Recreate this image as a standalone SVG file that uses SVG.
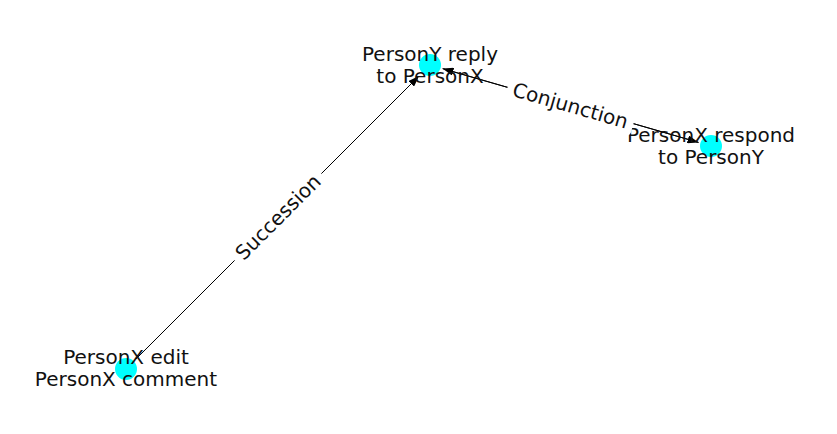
<svg xmlns="http://www.w3.org/2000/svg" width="837" height="434" viewBox="0 0 837 434">
<style>
.node{fill:#00ffff;}
.lbl{font-family:"DejaVu Sans",sans-serif;font-size:20px;fill:#111;text-anchor:middle;}
.edge{stroke:#000;stroke-width:1;fill:none;}
.elbg{fill:#fff;stroke:#fff;}
</style>
<defs>
<marker id="arr" markerUnits="userSpaceOnUse" viewBox="0 0 11 8" markerWidth="11" markerHeight="8" refX="11" refY="4" orient="auto">
<path d="M0,0 L11,4 L0,8 z" fill="#000"/>
</marker>
</defs>
<rect width="837" height="434" fill="#fff"/>
<g id="node-A"><circle class="node" cx="430" cy="65" r="11"/></g>
<g id="node-B"><circle class="node" cx="711" cy="146" r="11"/></g>
<g id="node-C"><circle class="node" cx="126" cy="369" r="11"/></g>
<g id="edges">
<line class="edge" x1="135.9" y1="359.1" x2="419" y2="76" marker-end="url(#arr)"/>
<line class="edge" x1="443.5" y1="68.9" x2="698.5" y2="142.4" marker-end="url(#arr)"/>
<line class="edge" x1="698.5" y1="142.4" x2="442.5" y2="68.6" marker-end="url(#arr)"/>
</g>
<g id="node-labels">
<text class="lbl" x="430" y="61">PersonY reply</text>
<text class="lbl" x="430" y="82.5">to PersonX</text>
<text class="lbl" x="711" y="142">PersonX respond</text>
<text class="lbl" x="711" y="163.5">to PersonY</text>
<text class="lbl" x="126" y="364">PersonX edit</text>
<text class="lbl" x="126" y="385.5">PersonX comment</text>
</g>
<g id="edge-labels">
<g transform="translate(278,217) rotate(-45)">
<rect class="elbg" x="-61" y="-13" width="122" height="26" rx="4"/>
<text class="lbl" x="0" y="7">Succession</text>
</g>
<g transform="translate(570.5,105.5) rotate(16.1)">
<rect class="elbg" x="-65" y="-13" width="130" height="26" rx="4"/>
<text class="lbl" x="0" y="7">Conjunction</text>
</g>
</g>
</svg>
